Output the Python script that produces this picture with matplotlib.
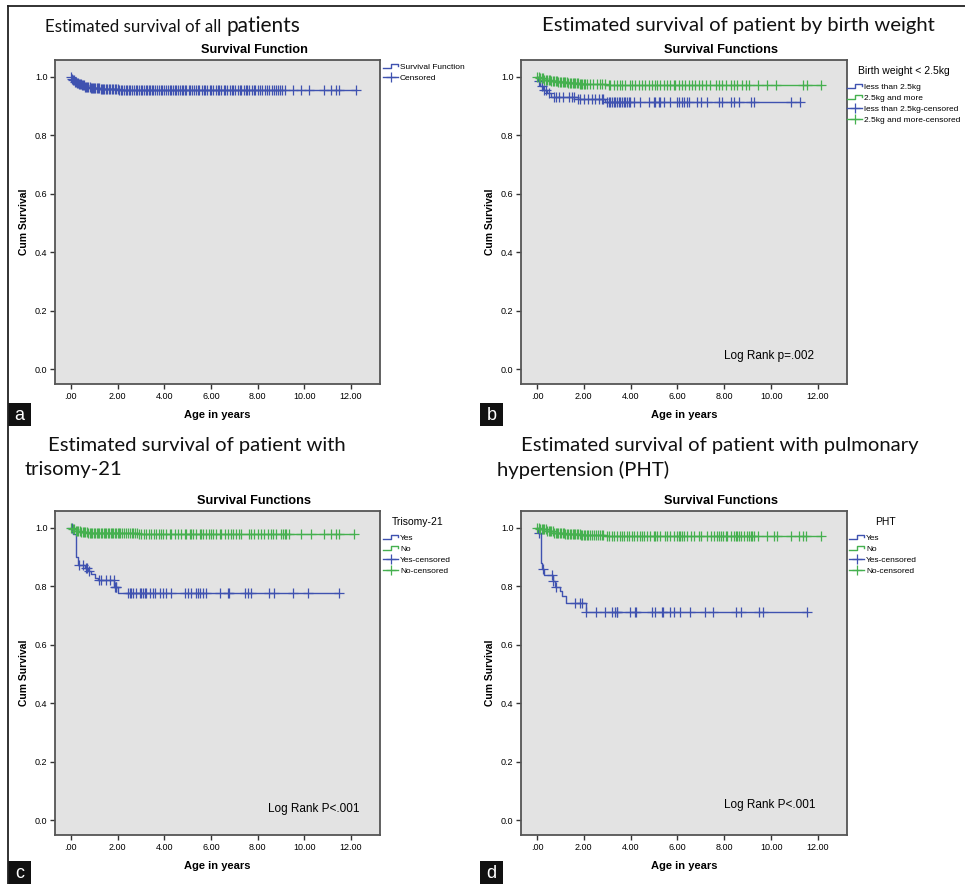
import matplotlib
matplotlib.use('Agg')
import matplotlib.pyplot as plt
import numpy as np
from matplotlib.lines import Line2D
from matplotlib.patches import Rectangle
from matplotlib.legend_handler import HandlerBase

#### DATA
# (a) all patients
a_time = [0, 0.05, 0.1, 0.15, 0.24, 0.35, 0.45, 0.6, 0.81, 1.0, 1.24, 1.6, 2.02, 2.5, 2.95]
a_surv = [1.0, 0.993, 0.988, 0.984, 0.979, 0.975, 0.971, 0.967, 0.963, 0.962, 0.960, 0.959, 0.957, 0.956, 0.955]
a_end = 12.2
a_cens = [0.02, 0.06, 0.1, 0.14, 0.18, 0.22, 0.27, 0.31, 0.35, 0.4, 0.44, 0.48, 0.53, 0.57, 0.62, 0.66,
          0.71, 0.75, 0.8, 0.85, 0.9, 0.95, 1.0, 1.05, 1.1, 1.16, 1.21, 1.27, 1.32, 1.38, 1.44, 1.5, 1.56,
          1.62, 1.68, 1.74, 1.8, 1.87, 1.93, 2.0, 2.06, 2.13, 2.2, 2.27, 2.34, 2.41, 2.48, 2.55, 2.62, 2.7,
          2.77, 2.85, 2.93, 3.0, 3.06, 3.13, 3.2, 3.27, 3.33, 3.4, 3.46, 3.53, 3.6, 3.7, 3.76, 3.85, 3.92,
          4.0, 4.08, 4.15, 4.25, 4.3, 4.38, 4.45, 4.5, 4.6, 4.66, 4.75, 4.8, 4.88, 4.95, 5.05, 5.12, 5.2,
          5.26, 5.35, 5.45, 5.5, 5.6, 5.7, 5.75, 5.85, 5.95, 6.0, 6.1, 6.2, 6.3, 6.35, 6.45, 6.55, 6.6,
          6.7, 6.8, 6.9, 6.95, 7.05, 7.15, 7.25, 7.3, 7.4, 7.5, 7.55, 7.65, 7.75, 7.85, 7.9, 8.0, 8.1,
          8.2, 8.3, 8.4, 8.5, 8.6, 8.7, 8.8, 8.85, 8.95, 9.05, 9.15, 9.5, 9.86, 10.21, 10.85, 11.14,
          11.35, 11.5, 12.2]

# (b) birth weight
b_lt_time = [0, 0.05, 0.15, 0.25, 0.45, 0.6, 1.75, 2.9]
b_lt_surv = [1.0, 0.985, 0.970, 0.955, 0.945, 0.933, 0.925, 0.914]
b_lt_end = 11.24
b_lt_cens = [0.1, 0.2, 0.3, 0.38, 0.5, 0.73, 0.81, 0.96, 1.13, 1.39, 1.49, 1.59, 1.77, 1.84, 1.99, 2.2,
             2.34, 2.49, 2.63, 2.77, 2.84, 3.0, 3.06, 3.13, 3.2, 3.27, 3.34, 3.41, 3.5, 3.56, 3.63, 3.7,
             3.78, 3.84, 3.92, 3.99, 4.13, 4.41, 4.77, 4.99, 5.06, 5.2, 5.27, 5.41, 5.7, 5.99, 6.06, 6.2,
             6.27, 6.41, 6.49, 6.84, 6.99, 7.27, 7.77, 7.91, 8.27, 8.41, 8.63, 9.13, 9.27, 10.84, 11.24]
b_ge_time = [0, 0.1, 0.3, 0.6, 0.9, 1.3, 1.8, 2.3, 2.95]
b_ge_surv = [1.0, 0.995, 0.99, 0.986, 0.983, 0.98, 0.977, 0.975, 0.972]
b_ge_end = 12.13
b_ge_cens = [0.02, 0.08, 0.14, 0.2, 0.26, 0.32, 0.38, 0.44, 0.5, 0.56, 0.62, 0.68, 0.74, 0.8, 0.86,
             0.92, 0.98, 1.04, 1.1, 1.16, 1.22, 1.28, 1.34, 1.4, 1.46, 1.52, 1.58, 1.64, 1.7, 1.76, 1.82,
             1.88, 1.94, 2.0, 2.06, 2.13, 2.27, 2.41, 2.56, 2.7, 2.77, 2.91, 3.06, 3.13, 3.27, 3.41, 3.56,
             3.63, 3.77, 3.99, 4.06, 4.2, 4.34, 4.49, 4.63, 4.77, 4.91, 5.06, 5.13, 5.27, 5.41, 5.56, 5.7,
             5.84, 5.91, 6.06, 6.2, 6.34, 6.49, 6.63, 6.77, 6.91, 7.06, 7.2, 7.41, 7.63, 7.77, 7.91, 8.06,
             8.27, 8.41, 8.56, 8.77, 8.91, 9.06, 9.42, 9.84, 10.2, 11.34, 11.53, 12.13]

# (c) trisomy-21
c_yes_time = [0, 0.1, 0.24, 0.3, 0.6, 0.74, 0.85, 1.03, 1.17, 1.85, 2.02]
c_yes_surv = [1.0, 0.98, 0.90, 0.873, 0.862, 0.851, 0.842, 0.83, 0.821, 0.799, 0.777]
c_yes_end = 11.5
c_yes_cens = [0.05, 0.36, 0.5, 0.64, 0.7, 0.78, 1.21, 1.31, 1.5, 1.67, 1.84, 1.88, 1.92, 1.95, 2.45,
              2.52, 2.59, 2.66, 2.8, 2.95, 3.02, 3.09, 3.16, 3.23, 3.38, 3.52, 3.59, 3.8, 3.95, 4.09,
              4.3, 4.87, 5.01, 5.16, 5.37, 5.44, 5.51, 5.65, 5.8, 6.37, 6.72, 6.79, 7.44, 7.58, 7.72,
              8.5, 8.72, 9.5, 10.14, 11.5]
c_no_time = [0, 0.05, 0.2, 0.4, 0.7, 2.9]
c_no_surv = [1.0, 0.996, 0.99, 0.986, 0.983, 0.979]
c_no_end = 12.14
c_no_cens = [0.02, 0.08, 0.14, 0.2, 0.26, 0.32, 0.38, 0.44, 0.5, 0.56, 0.62, 0.68, 0.74, 0.8, 0.86,
             0.92, 0.98, 1.04, 1.1, 1.16, 1.22, 1.28, 1.34, 1.4, 1.46, 1.52, 1.58, 1.64, 1.7, 1.76, 1.82,
             1.88, 1.94, 2.0, 2.06, 2.12, 2.2, 2.28, 2.36, 2.44, 2.52, 2.6, 2.68, 2.76, 2.84, 2.9, 3.02,
             3.12, 3.23, 3.33, 3.45, 3.55, 3.66, 3.77, 3.87, 3.95, 4.09, 4.23, 4.3, 4.44, 4.59, 4.73,
             4.87, 4.94, 5.09, 5.16, 5.23, 5.37, 5.51, 5.58, 5.68, 5.8, 5.91, 6.01, 6.08, 6.23, 6.37,
             6.44, 6.58, 6.72, 6.86, 6.94, 7.08, 7.22, 7.29, 7.65, 7.72, 7.86, 8.0, 8.15, 8.29, 8.43,
             8.58, 8.65, 8.79, 9.0, 9.08, 9.15, 9.22, 9.36, 9.86, 10.29, 10.85, 11.14, 11.35, 11.5, 12.14]

# (d) pulmonary hypertension
d_yes_time = [0, 0.06, 0.17, 0.22, 0.3, 0.67, 0.77, 0.99, 1.06, 1.24, 2.09]
d_yes_surv = [1.0, 0.984, 0.881, 0.859, 0.838, 0.818, 0.798, 0.784, 0.767, 0.742, 0.713]
d_yes_end = 11.55
d_yes_cens = [0.1, 0.28, 0.63, 0.7, 0.81, 1.63, 1.84, 1.91, 2.1, 2.53, 2.92, 3.2, 3.34, 3.41, 3.44,
              3.98, 4.2, 4.24, 4.91, 5.06, 5.34, 5.39, 5.7, 5.84, 6.13, 6.53, 7.16, 7.51, 8.49, 8.7,
              9.49, 9.67, 11.55]
d_no_time = [0, 0.1, 0.41, 0.7, 1.2, 1.84, 2.91]
d_no_surv = [1.0, 0.995, 0.99, 0.983, 0.98, 0.977, 0.973]
d_no_end = 12.13
d_no_cens = [0.02, 0.08, 0.14, 0.2, 0.26, 0.32, 0.38, 0.44, 0.5, 0.56, 0.62, 0.68, 0.74, 0.8, 0.86,
             0.92, 0.98, 1.04, 1.1, 1.16, 1.22, 1.28, 1.34, 1.4, 1.46, 1.52, 1.58, 1.64, 1.7, 1.76, 1.82,
             1.88, 1.94, 2.0, 2.06, 2.12, 2.2, 2.28, 2.36, 2.44, 2.52, 2.6, 2.68, 2.76, 2.84, 2.99, 3.08,
             3.2, 3.3, 3.41, 3.53, 3.63, 3.73, 3.84, 3.94, 4.06, 4.16, 4.27, 4.39, 4.49, 4.59, 4.7, 4.84,
             4.99, 5.06, 5.13, 5.27, 5.49, 5.56, 5.7, 5.84, 5.99, 6.06, 6.13, 6.2, 6.27, 6.41, 6.56, 6.7,
             6.92, 6.99, 7.27, 7.42, 7.56, 7.7, 7.77, 7.84, 7.96, 8.06, 8.13, 8.27, 8.41, 8.49, 8.56,
             8.63, 8.7, 8.84, 8.99, 9.06, 9.13, 9.2, 9.27, 9.42, 9.84, 10.13, 10.24, 10.84, 11.2, 11.34,
             11.49, 12.13]

x_ticks = [0, 2, 4, 6, 8, 10, 12]
x_ticklabels = ['.00', '2.00', '4.00', '6.00', '8.00', '10.00', '12.00']
y_ticks = [0.0, 0.2, 0.4, 0.6, 0.8, 1.0]

BLUE = '#3f52b0'
GREEN = '#45b04f'
W, H = 965, 884
SANS = ['Liberation Sans', 'DejaVu Sans']
TITLE_FONT = ['Lato', 'DejaVu Sans']


class StepHandler(HandlerBase):
    # little "_|‾" icon SPSS uses for the survival function entries
    def create_artists(self, legend, orig_handle, xdescent, ydescent, width, height, fontsize, trans):
        x0, y0 = -xdescent, -ydescent
        xs = [x0, x0 + 0.55 * width, x0 + 0.55 * width, x0 + width, x0 + width]
        ys = [y0 + 0.15 * height, y0 + 0.15 * height, y0 + 0.85 * height, y0 + 0.85 * height, y0 + 0.5 * height]
        ln = Line2D(xs, ys, color=orig_handle.get_color(), lw=1.0, transform=trans)
        return [ln]


def fx(x):
    return x / W


def fy(y):
    return 1 - y / H


def make_axes(fig, l, t, r, b):
    ax = fig.add_axes([fx(l), fy(b), (r - l) / W, (b - t) / H])
    ax.set_facecolor('#e3e3e3')
    ax.set_xlim(-0.68, 13.24)
    ax.set_ylim(-0.051, 1.058)
    ax.set_xticks(x_ticks)
    ax.set_xticklabels(x_ticklabels)
    ax.set_yticks(y_ticks)
    ax.set_yticklabels(['%.1f' % v for v in y_ticks])
    ax.tick_params(direction='out', length=3.5, width=1.0, color='#333333', labelsize=6.5, pad=2)
    for lab in ax.get_xticklabels() + ax.get_yticklabels():
        lab.set_family(SANS)
    for s in ax.spines.values():
        s.set_color('#555555')
        s.set_linewidth(1.3)
    ax.set_xlabel('Age in years', fontsize=8, fontweight='bold', family=SANS, labelpad=7)
    ax.set_ylabel('Cum Survival', fontsize=7.5, fontweight='bold', family=SANS, labelpad=4)
    return ax


def km_curve(ax, times, surv, end, cens, color):
    t = np.array(times + [end])
    s = np.array(surv + [surv[-1]])
    ax.step(t, s, where='post', color=color, lw=1.0)
    idx = np.searchsorted(np.array(times), np.array(cens), side='right') - 1
    ax.plot(cens, np.array(surv)[idx], linestyle='none', marker='+', color=color,
            markersize=7, markeredgewidth=0.9)


def add_legend(ax, labels, colors, left, top, censored_labels):
    handles = [Line2D([], [], color=c, lw=1.0) for c in colors]
    cens_handles = [Line2D([], [], color=c, lw=1.0, marker='+', markersize=7, markeredgewidth=0.9)
                    for c in colors]
    hmap = {h: StepHandler() for h in handles}
    leg = ax.legend(handles + cens_handles, labels + censored_labels, handler_map=hmap,
                    loc='upper left', bbox_to_anchor=(fx(left), fy(top)), bbox_transform=fig.transFigure,
                    frameon=False, numpoints=1, handlelength=1.8, handletextpad=0.25,
                    labelspacing=0.38, borderpad=0.0, borderaxespad=0.0,
                    prop={'family': SANS, 'size': 6.0})
    return leg


fig = plt.figure(figsize=(W / 100, H / 100), dpi=100)

# panel a
ax_a = make_axes(fig, 55, 60, 380, 384)
km_curve(ax_a, a_time, a_surv, a_end, a_cens, BLUE)
add_legend(ax_a, ['Survival Function'], [BLUE], 383, 63.5, ['Censored'])

# panel b
ax_b = make_axes(fig, 521, 60, 847, 384)
km_curve(ax_b, b_lt_time, b_lt_surv, b_lt_end, b_lt_cens, BLUE)
km_curve(ax_b, b_ge_time, b_ge_surv, b_ge_end, b_ge_cens, GREEN)
add_legend(ax_b, ['less than 2.5kg', '2.5kg and more'], [BLUE, GREEN], 847, 83,
           ['less than 2.5kg-censored', '2.5kg and more-censored'])
fig.text(fx(904), fy(71), 'Birth weight < 2.5kg', ha='center', va='center', fontsize=7.5, family=SANS)
ax_b.text(7.97, 0.045, 'Log Rank p=.002', fontsize=8.5, family=SANS, va='center')

# panel c
ax_c = make_axes(fig, 55, 511, 380, 835)
km_curve(ax_c, c_yes_time, c_yes_surv, c_yes_end, c_yes_cens, BLUE)
km_curve(ax_c, c_no_time, c_no_surv, c_no_end, c_no_cens, GREEN)
add_legend(ax_c, ['Yes', 'No'], [BLUE, GREEN], 383, 534, ['Yes-censored', 'No-censored'])
fig.text(fx(418), fy(522), 'Trisomy-21', ha='center', va='center', fontsize=7.5, family=SANS)
ax_c.text(8.46, 0.038, 'Log Rank P<.001', fontsize=8.5, family=SANS, va='center')

# panel d
ax_d = make_axes(fig, 521, 511, 847, 835)
km_curve(ax_d, d_yes_time, d_yes_surv, d_yes_end, d_yes_cens, BLUE)
km_curve(ax_d, d_no_time, d_no_surv, d_no_end, d_no_cens, GREEN)
add_legend(ax_d, ['Yes', 'No'], [BLUE, GREEN], 849, 534, ['Yes-censored', 'No-censored'])
fig.text(fx(885), fy(522), 'PHT', ha='center', va='center', fontsize=7.5, family=SANS)
ax_d.text(8.0, 0.051, 'Log Rank P<.001', fontsize=8.5, family=SANS, va='center')

# SPSS chart titles (centred over chart + legend area)
for cx, cy, txt in [(254, 50, 'Survival Function'), (721, 50, 'Survival Functions'),
                    (254, 501, 'Survival Functions'), (721, 501, 'Survival Functions')]:
    fig.text(fx(cx), fy(cy), txt, ha='center', va='center', fontsize=9.2, fontweight='bold', family=SANS)

# big panel headings
t_a = fig.text(fx(45), fy(32), 'Estimated survival of all', va='baseline', fontsize=12.2,
               family=TITLE_FONT, color='#111111')
# "patients" is set a bit larger in the original; put it right after the first part
fig.canvas.draw()
x_end = t_a.get_window_extent().x1
fig.text((x_end + 5) / W, fy(32), 'patients', va='baseline', fontsize=15, family=TITLE_FONT,
         color='#111111')
fig.text(fx(542), fy(25), 'Estimated survival of patient by birth weight', va='center', fontsize=14.6,
         family=TITLE_FONT, color='#111111')
fig.text(fx(48), fy(445), 'Estimated survival of patient with', va='center', fontsize=14.6,
         family=TITLE_FONT, color='#111111')
fig.text(fx(25), fy(470), 'trisomy-21', va='center', fontsize=14.6, family=TITLE_FONT, color='#111111')
fig.text(fx(521), fy(445), 'Estimated survival of patient with pulmonary', va='center', fontsize=14.6,
         family=TITLE_FONT, color='#111111')
fig.text(fx(497), fy(470), 'hypertension (PHT)', va='center', fontsize=14.6, family=TITLE_FONT,
         color='#111111')

# panel letters in black boxes
for letter, (lx, ly) in zip(['a', 'b', 'c', 'd'], [(8, 403), (480, 403), (8, 861), (480, 861)]):
    fig.add_artist(Rectangle((fx(lx), fy(ly + 23)), 23 / W, 23 / H, transform=fig.transFigure,
                             facecolor='#111111', edgecolor='none'))
    fig.text(fx(lx + 11.5), fy(ly + 12), letter, color='white', ha='center', va='center',
             fontsize=13, family=SANS)

# outer frame (top and left only, picture is cropped)
fig.add_artist(Line2D([fx(8), fx(8)], [0, fy(6)], transform=fig.transFigure, color='#222222', lw=1.3))
fig.add_artist(Line2D([fx(8), 1], [fy(6), fy(6)], transform=fig.transFigure, color='#222222', lw=1.3))

fig.savefig('out.png', dpi=100)
